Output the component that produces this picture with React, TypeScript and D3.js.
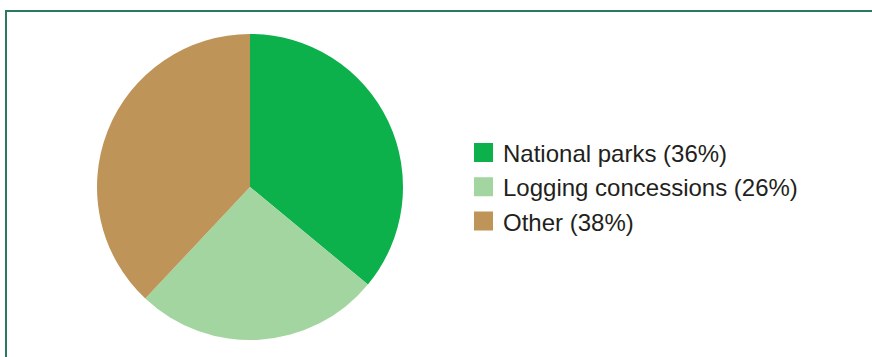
import React, { useEffect, useRef } from 'react';
import * as d3 from 'd3';

const categories = ['National parks', 'Logging concessions', 'Other'];
const shares = [36, 26, 38];
const colors = ['#0db14b', '#a3d5a0', '#be9459'];

const W = 872;
const H = 357;

const App: React.FC = () => {
  const svgRef = useRef<SVGSVGElement>(null);

  useEffect(() => {
    if (!svgRef.current) return;
    const svg = d3.select(svgRef.current);
    svg.selectAll('*').remove();

    // frame: top and left edges only
    svg.append('path')
      .attr('d', `M6,${H} L6,11 L${W},11`)
      .attr('fill', 'none')
      .attr('stroke', '#2b7a5b')
      .attr('stroke-width', 2);

    const data = categories.map((name, i) => ({ name, value: shares[i], color: colors[i] }));

    const pie = d3.pie<any>().value(d => d.value).sort(null);
    const arc = d3.arc<any>().innerRadius(0).outerRadius(153);

    const g = svg.append('g').attr('transform', 'translate(250,187)');
    g.selectAll('path')
      .data(pie(data))
      .enter().append('path')
      .attr('d', arc)
      .attr('fill', d => d.data.color);

    // legend
    const y = d3.scalePoint<string>().domain(categories).range([152.5, 221]);
    const item = svg.append('g').selectAll('g')
      .data(data)
      .enter().append('g')
      .attr('transform', d => `translate(474,${y(d.name)})`);

    item.append('rect')
      .attr('x', 0)
      .attr('y', -9.5)
      .attr('width', 19)
      .attr('height', 19)
      .attr('fill', d => d.color);

    item.append('text')
      .attr('x', 29)
      .attr('y', 9.5)
      .style('font-family', '"Liberation Sans", Arial, sans-serif')
      .style('font-size', '24px')
      .style('fill', '#231f20')
      .text(d => `${d.name} (${d.value}%)`);
  }, []);

  return (
    <svg
      ref={svgRef}
      width={W}
      height={H}
      style={{ position: 'absolute', left: 0, top: 0, background: '#fff' }}
    />
  );
};

export default App;
